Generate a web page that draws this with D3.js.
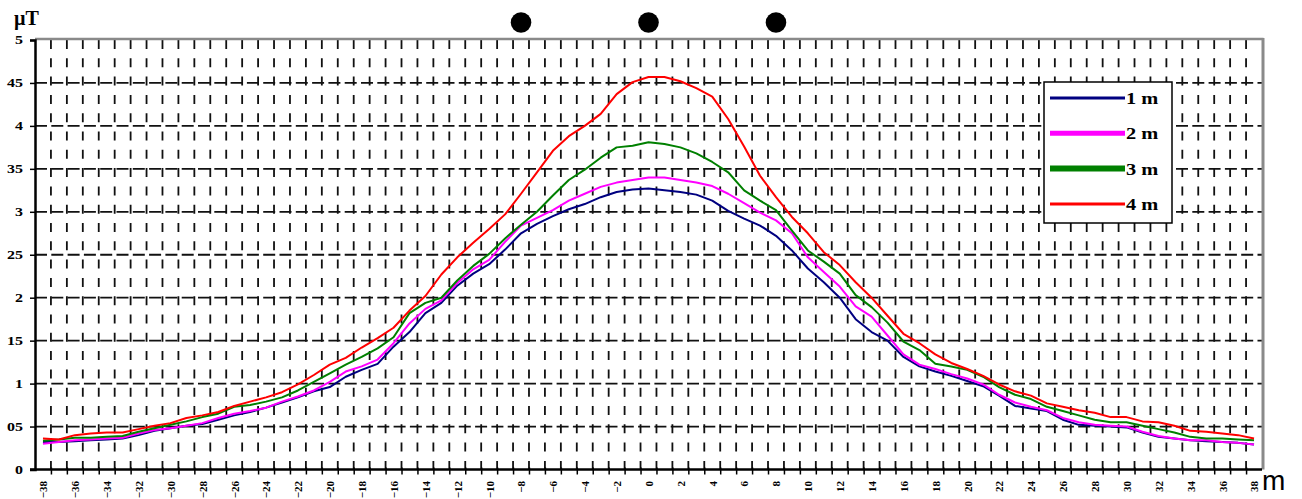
<!DOCTYPE html>
<html>
<head>
<meta charset="utf-8">
<script src="https://cdn.jsdelivr.net/npm/d3@7"></script>
<style>
  html, body { margin: 0; padding: 0; background: #ffffff; }
  svg { display: block; }
</style>
</head>
<body>
<svg id="chart" width="1302" height="499"></svg>
<script>
// Lateral distance from the line axis (m)
const distances = d3.range(-38, 39);

// Magnetic flux density (µT) measured at four heights above ground
const field1m = [0.32,0.32,0.33,0.34,0.35,0.36,0.40,0.45,0.48,0.51,0.53,0.58,0.63,0.67,0.72,0.78,0.84,0.91,0.96,1.08,1.16,1.23,1.43,1.60,1.82,1.94,2.14,2.28,2.39,2.56,2.75,2.86,2.95,3.03,3.09,3.17,3.23,3.26,3.27,3.25,3.23,3.20,3.13,3.01,2.92,2.84,2.72,2.55,2.34,2.18,2.00,1.75,1.60,1.50,1.31,1.20,1.14,1.09,1.03,0.97,0.86,0.74,0.71,0.68,0.58,0.52,0.51,0.50,0.49,0.43,0.38,0.36,0.34,0.33,0.32,0.31,0.29];
const field2m = [0.30,0.32,0.34,0.35,0.36,0.37,0.42,0.46,0.48,0.51,0.54,0.60,0.65,0.68,0.72,0.79,0.85,0.92,1.02,1.14,1.20,1.28,1.47,1.70,1.87,1.97,2.17,2.33,2.44,2.65,2.84,2.93,3.02,3.13,3.21,3.29,3.34,3.37,3.40,3.40,3.37,3.34,3.30,3.21,3.10,2.99,2.90,2.75,2.47,2.30,2.13,1.90,1.78,1.56,1.34,1.22,1.17,1.11,1.06,0.99,0.87,0.78,0.73,0.69,0.60,0.55,0.52,0.51,0.50,0.44,0.39,0.36,0.34,0.34,0.32,0.31,0.29];
const field3m = [0.335,0.35,0.37,0.37,0.38,0.39,0.44,0.48,0.52,0.56,0.61,0.65,0.73,0.75,0.79,0.84,0.92,1.02,1.12,1.22,1.31,1.41,1.54,1.82,1.94,2.00,2.20,2.37,2.51,2.69,2.85,3.00,3.19,3.37,3.49,3.63,3.75,3.77,3.81,3.79,3.75,3.68,3.58,3.46,3.25,3.13,3.02,2.78,2.55,2.42,2.28,2.03,1.89,1.71,1.49,1.39,1.23,1.20,1.16,1.08,0.96,0.87,0.82,0.73,0.68,0.63,0.58,0.55,0.55,0.51,0.47,0.43,0.38,0.36,0.36,0.35,0.34];
const field4m = [0.36,0.35,0.40,0.42,0.43,0.43,0.47,0.51,0.54,0.60,0.63,0.67,0.74,0.79,0.84,0.90,0.99,1.10,1.22,1.30,1.42,1.53,1.65,1.85,2.02,2.27,2.47,2.64,2.80,2.97,3.21,3.46,3.71,3.88,4.00,4.14,4.37,4.51,4.57,4.57,4.52,4.44,4.34,4.08,3.76,3.42,3.17,2.94,2.75,2.53,2.38,2.18,2.00,1.79,1.58,1.47,1.34,1.24,1.17,1.09,0.99,0.91,0.86,0.77,0.73,0.69,0.66,0.61,0.61,0.56,0.55,0.51,0.45,0.44,0.42,0.40,0.36];

const seriesNames = ["1 m", "2 m", "3 m", "4 m"];
const seriesValues = [field1m, field2m, field3m, field4m];
const seriesColors = ["#000080", "#ff00ff", "#008000", "#ff0000"];
const legendStroke = [3, 5, 6, 3];

// Conductor positions drawn above the plot (m)
const conductorPositions = [-8, 0, 8];

// Axis ticks
const yTickValues = [0, 0.5, 1, 1.5, 2, 2.5, 3, 3.5, 4, 4.5, 5];
const yTickLabels = ["0", "05", "1", "15", "2", "25", "3", "35", "4", "45", "5"];
const xTickValues = d3.range(-38, 39, 2);

const svg = d3.select("#chart");
const plotLeft = 35, plotRight = 1262, plotTop = 40, plotBottom = 469.5;

const x = d3.scaleLinear().domain([-38.5, 38.5]).range([plotLeft, plotRight]);
const y = d3.scaleLinear().domain([0, 5]).range([plotBottom, plotTop]);

const serif = "'Liberation Serif', 'Times New Roman', serif";

// Dashed grid: one vertical line per category boundary, horizontal every 0.5 µT
const boundaries = d3.range(-37.5, 38.5, 1);
svg.append("g")
  .selectAll("line")
  .data(boundaries)
  .join("line")
  .attr("x1", d => x(d)).attr("x2", d => x(d))
  .attr("y1", plotTop).attr("y2", plotBottom)
  .attr("stroke", "#111").attr("stroke-width", 1.8)
  .attr("stroke-dasharray", "9,9.3");

svg.append("g")
  .selectAll("line")
  .data(yTickValues.filter(v => v > 0 && v < 5))
  .join("line")
  .attr("x1", plotLeft).attr("x2", plotRight)
  .attr("y1", d => y(d)).attr("y2", d => y(d))
  .attr("stroke", "#111").attr("stroke-width", 1.8)
  .attr("stroke-dasharray", "12,4.3");

// Grey frame on top and right
svg.append("line")
  .attr("x1", plotLeft).attr("x2", plotRight + 1.5).attr("y1", plotTop - 1).attr("y2", plotTop - 1)
  .attr("stroke", "#8a8a8a").attr("stroke-width", 2.5);
svg.append("line")
  .attr("x1", plotRight + 1).attr("x2", plotRight + 1).attr("y1", plotTop - 2).attr("y2", plotBottom)
  .attr("stroke", "#8a8a8a").attr("stroke-width", 3);

// Field profiles
const line = d3.line()
  .x((d, i) => x(distances[i]))
  .y(d => y(d));

svg.append("g")
  .selectAll("path")
  .data(seriesValues)
  .join("path")
  .attr("d", d => line(d))
  .attr("fill", "none")
  .attr("stroke", (d, i) => seriesColors[i])
  .attr("stroke-width", 2)
  .attr("stroke-linejoin", "round");

// Y axis
const yAxis = svg.append("g")
  .attr("transform", `translate(${plotLeft},0)`)
  .call(d3.axisLeft(y).tickValues(yTickValues).tickSize(5).tickPadding(12)
    .tickFormat((d, i) => yTickLabels[i]));
yAxis.select(".domain").attr("stroke", "#000").attr("stroke-width", 2.5);
yAxis.selectAll(".tick line").attr("stroke", "#000").attr("stroke-width", 1.5);
yAxis.selectAll(".tick text")
  .attr("font-family", serif).attr("font-weight", "bold").attr("font-size", 12)
  .attr("fill", "#000")
  .attr("x", -12 / 1.33)
  .attr("transform", "scale(1.33,1)");

// X axis: tick marks at category boundaries
const xTicks = svg.append("g")
  .attr("transform", `translate(0,${plotBottom})`)
  .call(d3.axisBottom(x).tickValues(boundaries).tickSize(5).tickFormat(""));
xTicks.select(".domain").attr("stroke", "#000").attr("stroke-width", 2.5)
  .attr("d", `M${plotLeft - 5},0H${plotRight}`);
xTicks.selectAll(".tick line").attr("stroke", "#000").attr("stroke-width", 1.5).attr("y1", -2);

// X axis labels, rotated to read upward
const xLabels = svg.append("g")
  .attr("transform", `translate(0,${plotBottom})`)
  .call(d3.axisBottom(x).tickValues(xTickValues).tickSize(0).tickFormat(d3.format("d")));
xLabels.select(".domain").remove();
xLabels.selectAll(".tick text")
  .attr("font-family", serif).attr("font-weight", "bold").attr("font-size", 11)
  .attr("fill", "#000")
  .attr("text-anchor", "end")
  .attr("transform", "rotate(-90)")
  .attr("x", -11.5).attr("y", 0).attr("dy", "0.35em");

// Conductors
svg.append("g")
  .selectAll("circle")
  .data(conductorPositions)
  .join("circle")
  .attr("cx", d => x(d)).attr("cy", 22.5).attr("r", 10.3)
  .attr("fill", "#000");

// Unit labels
svg.append("text")
  .attr("x", 14).attr("y", 25)
  .attr("font-family", serif).attr("font-weight", "bold").attr("font-size", 20)
  .text("µT");
svg.append("text")
  .attr("x", 1262).attr("y", 490)
  .attr("font-family", "'Liberation Sans', Arial, sans-serif").attr("font-size", 28)
  .text("m");

// Legend
const legend = svg.append("g");
legend.append("rect")
  .attr("x", 1044).attr("y", 82).attr("width", 128).attr("height", 141)
  .attr("fill", "#fff").attr("stroke", "#000").attr("stroke-width", 1.5);
const rows = legend.selectAll("g.row")
  .data(seriesNames)
  .join("g").attr("class", "row")
  .attr("transform", (d, i) => `translate(0,${98 + i * 35.3})`);
rows.append("line")
  .attr("x1", 1050).attr("x2", 1125).attr("y1", 0).attr("y2", 0)
  .attr("stroke", (d, i) => seriesColors[i])
  .attr("stroke-width", (d, i) => legendStroke[i]);
rows.append("text")
  .attr("transform", "translate(1126,6) scale(1.2,1)")
  .attr("font-family", serif).attr("font-weight", "bold").attr("font-size", 17)
  .text(d => d);
</script>
</body>
</html>
